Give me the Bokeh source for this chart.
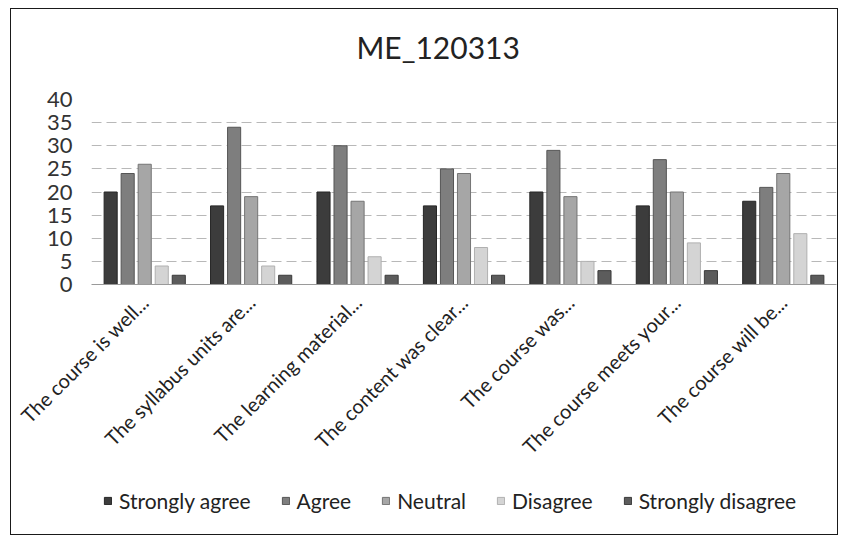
import math
from bokeh.plotting import figure
from bokeh.layouts import column
from bokeh.models import (ColumnDataSource, FactorRange, Range1d, Legend, LegendItem,
                          FixedTicker, Label)
from bokeh.transform import dodge
from bokeh.embed import file_html
from bokeh.resources import INLINE

title_text = "ME_120313"
categories = [
    "The course is well...",
    "The syllabus units are...",
    "The learning material...",
    "The content was clear...",
    "The course was...",
    "The course meets your...",
    "The course will be...",
]
series_names = ["Strongly agree", "Agree", "Neutral", "Disagree", "Strongly disagree"]
strongly_agree = [20, 17, 20, 17, 20, 17, 18]
agree = [24, 34, 30, 25, 29, 27, 21]
neutral = [26, 19, 18, 24, 19, 20, 24]
disagree = [4, 4, 6, 8, 5, 9, 11]
strongly_disagree = [2, 2, 2, 2, 3, 3, 2]
y_ticks = [0, 5, 10, 15, 20, 25, 30, 35, 40]

fills = ["#3c3c3c", "#7e7e7e", "#a6a6a6", "#d4d4d4", "#5c5c5c"]
edges = ["#262626", "#555555", "#747474", "#b0b0b0", "#3a3a3a"]

src = ColumnDataSource(dict(
    cat=categories,
    s0=strongly_agree, s1=agree, s2=neutral, s3=disagree, s4=strongly_disagree,
))

FONT = "Lato"
offsets = [-0.32, -0.16, 0.0, 0.16, 0.32]

# title strip on top
p0 = figure(
    width=826, height=76,
    x_range=Range1d(0, 1), y_range=Range1d(0, 1),
    x_axis_location=None, y_axis_location=None,
    output_backend="svg", toolbar_location=None,
    min_border_left=0, min_border_right=0, min_border_top=0, min_border_bottom=0,
)
p0.grid.grid_line_color = None
p0.outline_line_color = None
p0.add_layout(Label(x=265, y=39, x_units="screen", y_units="screen", text=title_text,
                    text_font=FONT, text_font_size="30px", text_color="#222222",
                    text_align="left", text_baseline="middle"))

p = figure(
    width=826, height=384,
    x_range=FactorRange(*categories),
    y_range=Range1d(0, 40),
    output_backend="svg", toolbar_location=None,
    min_border_left=80, min_border_right=1, min_border_top=14, min_border_bottom=185,
)

renderers = []
for i, off in enumerate(offsets):
    r = p.vbar(x=dodge("cat", off, range=p.x_range), top="s%d" % i, width=0.123,
               source=src, fill_color=fills[i], line_color=edges[i], line_width=1)
    renderers.append(r)

p.xgrid.grid_line_color = None
p.ygrid.grid_line_color = "#b8b8b8"
p.ygrid.grid_line_dash = "10 5"
p.ygrid.grid_line_width = 1
p.outline_line_color = None

p.yaxis.ticker = FixedTicker(ticks=y_ticks)
p.yaxis.axis_line_color = None
p.yaxis.major_tick_line_color = None
p.yaxis.minor_tick_line_color = None
p.yaxis.major_label_text_font = FONT
p.yaxis.major_label_text_font_size = "22px"
p.yaxis.major_label_text_color = "#333333"
p.yaxis.major_label_standoff = 13

p.xaxis.axis_line_color = "#9a9a9a"
p.xaxis.major_tick_line_color = None
p.xaxis.minor_tick_line_color = None
p.xaxis.major_label_orientation = math.pi / 4
p.xaxis.major_label_text_font = FONT
p.xaxis.major_label_text_font_size = "20px"
p.xaxis.major_label_text_color = "#222222"
p.xaxis.major_label_standoff = 8

# legend strip underneath (its bars lie outside its visible y range)
p2 = figure(
    width=826, height=65,
    x_range=FactorRange(*categories), y_range=Range1d(100, 101),
    x_axis_location=None, y_axis_location=None,
    output_backend="svg", toolbar_location=None,
    min_border_left=0, min_border_right=0, min_border_top=0, min_border_bottom=0,
)
p2.grid.grid_line_color = None
p2.outline_line_color = None
leg_renderers = []
for i, off in enumerate(offsets):
    leg_renderers.append(p2.vbar(x=dodge("cat", off, range=p2.x_range), top="s%d" % i,
                                 width=0.123, source=src,
                                 fill_color=fills[i], line_color=edges[i]))

legend = Legend(
    items=[LegendItem(label=n, renderers=[r]) for n, r in zip(series_names, leg_renderers)],
    orientation="horizontal", location=(12, 21),
    label_text_font=FONT, label_text_font_size="21px", label_text_color="#222222",
    glyph_width=9, glyph_height=9, spacing=30, label_standoff=7,
    border_line_color=None, background_fill_alpha=0, padding=4, margin=0,
)
p2.add_layout(legend)

layout = column(p0, p, p2, spacing=0,
                styles={"border": "1px solid #1a1a1a", "margin-left": "10px", "margin-top": "8px"})

open("out.html", "w").write(file_html(layout, INLINE))
